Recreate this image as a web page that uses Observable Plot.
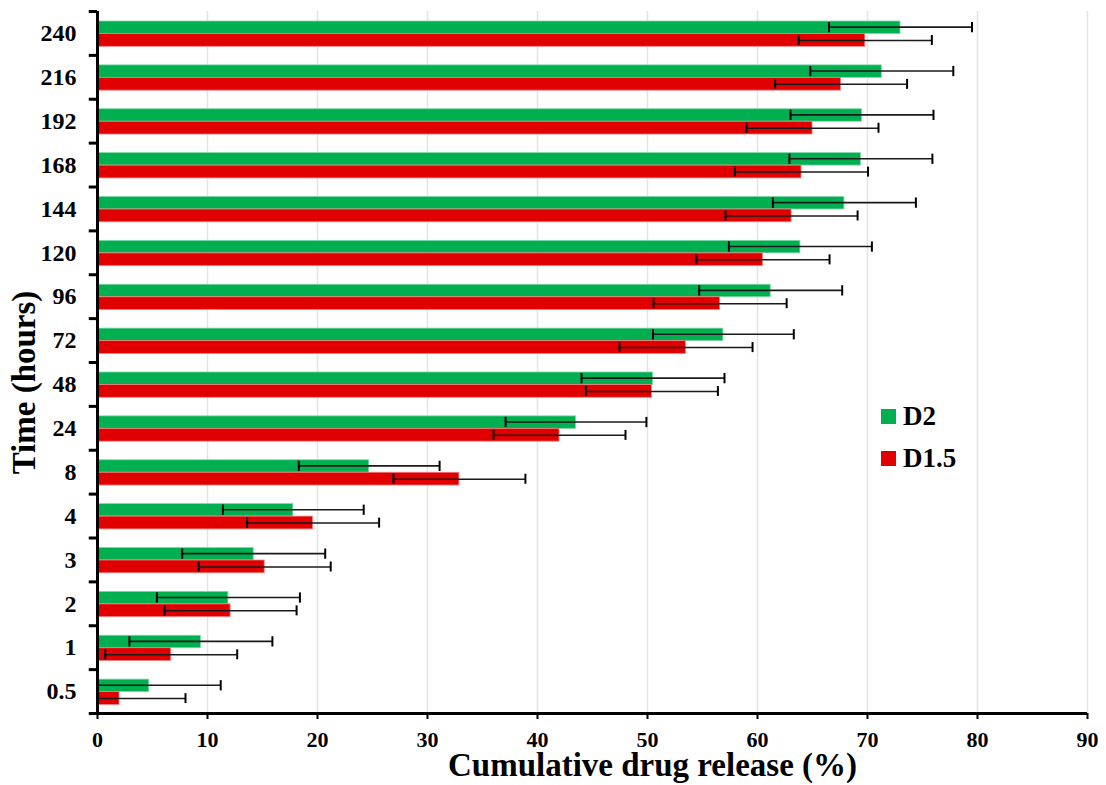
<!DOCTYPE html>
<html><head><meta charset="utf-8">
<script src="https://cdn.jsdelivr.net/npm/d3@7"></script>
<script src="https://cdn.jsdelivr.net/npm/@observablehq/plot@0.6"></script>
<style>
body{margin:0;background:#fff}
#wrap{position:relative;width:1106px;height:785px;font-family:"Liberation Serif","Times New Roman",serif}
.lg{position:absolute;left:881px;display:flex;align-items:center;font-weight:bold;font-size:27px;color:#000;line-height:1}
.sw{width:15px;height:15px;margin-right:7px}
</style></head><body><div id="wrap"></div>
<script>
const times = ["0.5","1","2","3","4","8","24","48","72","96","120","144","168","192","216","240"];
const seriesNames = ["D2","D1.5"];
const seriesColors = ["#00b050","#e00000"];
const d2Mean  = [4.7, 9.4, 11.9, 14.2, 17.8, 24.7, 43.5, 50.5, 56.9, 61.2, 63.9, 67.9, 69.4, 69.5, 71.3, 73.0];
const d2SD    = [6.5, 6.5, 6.5, 6.5, 6.4, 6.4, 6.4, 6.5, 6.4, 6.5, 6.5, 6.5, 6.5, 6.5, 6.5, 6.5];
const d15Mean = [2.0, 6.7, 12.1, 15.2, 19.6, 32.9, 42.0, 50.4, 53.5, 56.6, 60.5, 63.1, 64.0, 65.0, 67.6, 69.8];
const d15SD   = [6.0, 6.0, 6.0, 6.0, 6.0, 6.0, 6.0, 6.0, 6.05, 6.05, 6.05, 6.0, 6.05, 6.0, 6.0, 6.05];
const xTicks = [0,10,20,30,40,50,60,70,80,90];

const W = 1106, H = 785, mT = 11, mB = 72, mL = 97, mR = 19;
const bw = (H - mT - mB) / times.length;

function rows(means, sds) {
  return times.map((t, i) => ({time: t, value: means[i], lo: means[i] - sds[i], hi: means[i] + sds[i]}));
}
const g = rows(d2Mean, d2SD), r = rows(d15Mean, d15SD);
const errStyle = {stroke: "#1a1a1a", strokeWidth: 1.6};
const capStyle = {stroke: "#000", strokeWidth: 2};

const plot = Plot.plot({
  width: W, height: H, marginTop: mT, marginBottom: mB, marginLeft: mL, marginRight: mR,
  style: {fontFamily: '"Liberation Serif","Times New Roman",serif', color: "#000", background: "#fff"},
  x: {domain: [0, 90]},
  y: {domain: times.slice().reverse(), padding: 0, round: false},
  marks: [
    Plot.gridX(xTicks, {stroke: "#e4e4e4", strokeOpacity: 1, strokeWidth: 1.5}),
    Plot.barX(g, {x: "value", y: "time", fill: seriesColors[0], insetTop: 10, insetBottom: 21.4, stroke: "#7fd7a7", strokeWidth: 0.8}),
    Plot.barX(r, {x: "value", y: "time", fill: seriesColors[1], insetTop: 22.5, insetBottom: 8.6, stroke: "#f08080", strokeWidth: 0.8}),
    Plot.ruleY(g, {y: "time", x1: d => Math.max(0, d.lo), x2: "hi", dy: -6.3, ...errStyle}),
    Plot.ruleY(r, {y: "time", x1: d => Math.max(0, d.lo), x2: "hi", dy: 7, ...errStyle}),
    Plot.tickX(g, {x: "hi", y: "time", insetTop: 11, insetBottom: 22.6, ...capStyle}),
    Plot.tickX(g.filter(d => d.lo >= 0), {x: "lo", y: "time", insetTop: 11, insetBottom: 22.6, ...capStyle}),
    Plot.tickX(r, {x: "hi", y: "time", insetTop: 24, insetBottom: 9.9, ...capStyle}),
    Plot.tickX(r.filter(d => d.lo >= 0), {x: "lo", y: "time", insetTop: 24, insetBottom: 9.9, ...capStyle}),
    Plot.ruleX([0], {stroke: "#000", strokeWidth: 3}),
    Plot.ruleY([times[0]], {y: d => d, x1: 0, x2: 90, dy: bw / 2, stroke: "#000", strokeWidth: 3}),
    Plot.ruleY(times, {y: d => d, x1: -0.75, x2: 0, dy: -bw / 2, stroke: "#000", strokeWidth: 3}),
    Plot.ruleY([times[0]], {y: d => d, x1: -0.75, x2: 0, dy: bw / 2, stroke: "#000", strokeWidth: 3}),
    Plot.axisX(xTicks, {tickSize: 6, tickPadding: 12, strokeWidth: 2, fontSize: 22, fontWeight: "bold", label: null}),
    Plot.axisY({tickSize: 0, tickPadding: 21, fontSize: 24, fontWeight: "bold", label: null}),
    Plot.text(["Time (hours)"], {text: d => d, frameAnchor: "left", textAnchor: "middle", lineAnchor: "middle", dx: -73, dy: 20, rotate: -90, fontSize: 33, fontWeight: "bold"}),
    Plot.text(["Cumulative drug release (%)"], {text: d => d, frameAnchor: "bottom", textAnchor: "middle", lineAnchor: "bottom", dx: 60, dy: 62, fontSize: 33, fontWeight: "bold"})
  ]
});
const wrap = document.getElementById("wrap");
wrap.appendChild(plot);
seriesNames.forEach((name, i) => {
  const d = document.createElement("div");
  d.className = "lg";
  d.style.top = (403 + i * 42) + "px";
  d.innerHTML = `<span class="sw" style="background:${seriesColors[i]}"></span><span>${name}</span>`;
  wrap.appendChild(d);
});
</script></body></html>
